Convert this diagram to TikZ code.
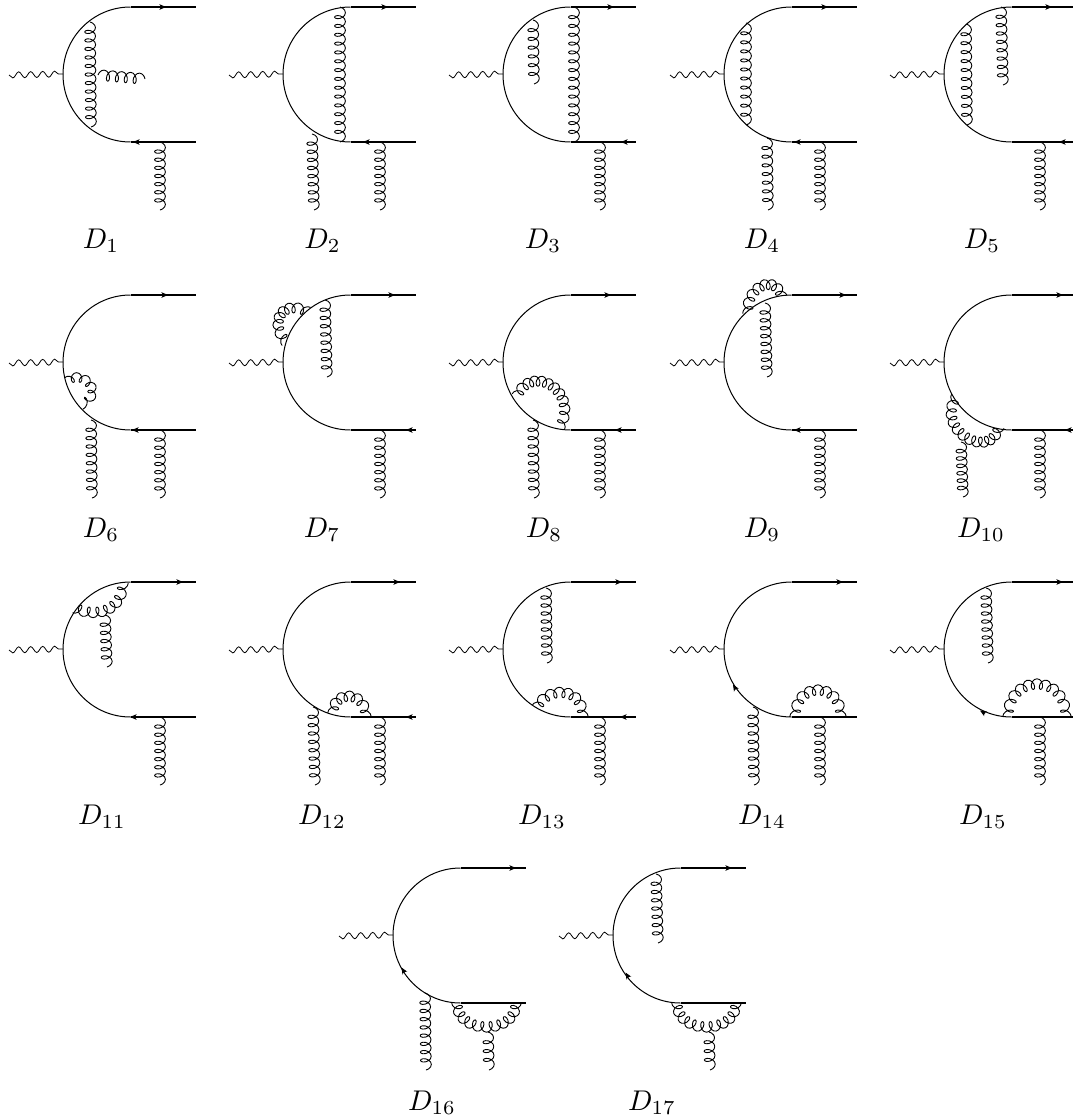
\documentclass[tikz,border=0pt]{standalone}
\usetikzlibrary{decorations.pathmorphing,arrows.meta}
\tikzset{
  fermion/.style={line width=1pt},
  fermionline/.style={line width=1.15pt},
  wave/.style={line width=0.8pt,decorate,decoration={snake,mirror,segment length=12pt,amplitude=3pt}},
  gluonline/.style={line width=0.9pt,line join=round},
  tip/.style={-{Stealth[length=6.5pt,width=5.5pt,inset=1.5pt]},line width=0.9pt},
  lab/.style={anchor=base,scale=2.85,inner sep=0pt}
}
\def\gA{5.4}\def\gB{3.5}\def\gCA{5.2}\def\gCB{3.4}
\newcommand{\basefig}[2]{%
  \begin{scope}[shift={(#1,#2)}]
    \draw[fermion] (130.5,7) .. controls (93.2,7) and (63,37.2) .. (63,74.5)
       .. controls (63,111.8) and (93.2,142) .. (130.5,142);
    \draw[fermionline] (130.5,7) -- (196,7);
    \draw[fermionline] (130.5,142) -- (196,142);
    \draw[wave] (9,75) -- (63,74);
  \end{scope}}
\newcommand{\topAr}[3]{\draw[tip] (#1+#3-5,#2+7) -- (#1+#3,#2+7);}
\newcommand{\botAr}[3]{\draw[tip] (#1+#3+5,#2+142) -- (#1+#3,#2+142);}
% straight gluon: x0 y0 x1 y1 loops
\newcommand{\gs}[5]{%
  \pgfmathsetmacro{\gdx}{#3-#1}%
  \pgfmathsetmacro{\gdy}{#4-#2}%
  \pgfmathsetmacro{\gL}{veclen(\gdx,\gdy)}%
  \pgfmathsetmacro{\gux}{\gdx/\gL}%
  \pgfmathsetmacro{\guy}{\gdy/\gL}%
  \pgfmathtruncatemacro{\gJ}{12*#5+6}%
  \gdef\gpts{}%
  \foreach \j in {0,...,\gJ}{%
    \pgfmathsetmacro{\gt}{\j/\gJ}%
    \pgfmathsetmacro{\gw}{\gB*(sin(30*\j-90)+1-2*\gt)}%
    \pgfmathsetmacro{\gh}{\gA*cos(30*\j-90)}%
    \pgfmathsetmacro{\gpx}{#1+\gt*\gdx+\gux*\gw+\guy*\gh}%
    \pgfmathsetmacro{\gpy}{#2+\gt*\gdy+\guy*\gw-\gux*\gh}%
    \xdef\gpts{\gpts(\gpx,\gpy)}}%
  \draw[gluonline] plot[smooth] coordinates {\gpts};}
% curved gluon: signed loops, then the four Bezier points of its centre line
\newcommand{\gc}[9]{%
  \pgfmathsetmacro{\gS}{#1>0 ? -1 : 1}%
  \pgfmathtruncatemacro{\gJ}{12*abs(#1)}%
  \gdef\gpts{}%
  \foreach \j in {0,...,\gJ}{%
    \pgfmathsetmacro{\gt}{\j/\gJ}%
    \pgfmathsetmacro{\gm}{1-\gt}%
    \pgfmathsetmacro{\gpa}{\gm*\gm*\gm}%
    \pgfmathsetmacro{\gpb}{3*\gm*\gm*\gt}%
    \pgfmathsetmacro{\gpc}{3*\gm*\gt*\gt}%
    \pgfmathsetmacro{\gpd}{\gt*\gt*\gt}%
    \pgfmathsetmacro{\gdx}{3*\gm*\gm*(#4-#2)+6*\gm*\gt*(#6-#4)+3*\gt*\gt*(#8-#6)}%
    \pgfmathsetmacro{\gdy}{3*\gm*\gm*(#5-#3)+6*\gm*\gt*(#7-#5)+3*\gt*\gt*(#9-#7)}%
    \pgfmathsetmacro{\gL}{veclen(\gdx,\gdy)}%
    \pgfmathsetmacro{\gw}{\gCB*sin(30*\j)/\gL}%
    \pgfmathsetmacro{\gh}{\gS*\gCA*cos(30*\j)/\gL}%
    \pgfmathsetmacro{\gpx}{\gpa*#2+\gpb*#4+\gpc*#6+\gpd*#8+\gdx*\gw-\gdy*\gh}%
    \pgfmathsetmacro{\gpy}{\gpa*#3+\gpb*#5+\gpc*#7+\gpd*#9+\gdy*\gw+\gdx*\gh}%
    \xdef\gpts{\gpts(\gpx,\gpy)}}%
  \draw[gluonline] plot[smooth] coordinates {\gpts};}
\begin{document}
\begin{tikzpicture}[x=1pt,y=-1pt]
\useasboundingbox (0,0) rectangle (1073,1120);
% D1
\basefig{0}{0}\topAr{0}{0}{166}\botAr{0}{0}{133}
\gs{90}{22}{91}{127}{11}
\gs{98}{75}{145}{79}{4}
\gs{160}{142}{160}{210}{7}
\node[lab] (n1) at (101,248) {$D_{1}$};
% D2
\basefig{220}{0}\topAr{220}{0}{168}\botAr{220}{0}{143}
\gs{340}{7}{340}{142}{14}
\gs{312}{134}{314}{210}{8}
\gs{380}{142}{380}{210}{7}
\node[lab] (n2) at (322.5,248) {$D_{2}$};
% D3
\basefig{440}{0}\topAr{440}{0}{174}\botAr{440}{0}{181}
\gs{533}{20}{534}{84}{6}
\gs{574}{7}{574}{142}{14}
\gs{600}{142}{600}{210}{7}
\node[lab] (n3) at (543,248) {$D_{3}$};
% D4
\basefig{661}{0}\topAr{661}{0}{167}\botAr{661}{0}{133}
\gs{746}{23}{746}{125}{10}
\gs{767}{138}{768}{210}{7}
\gs{820}{142}{820}{210}{7}
\node[lab] (n4) at (762,248) {$D_{4}$};
% D5
\basefig{881}{0}\topAr{881}{0}{171}\botAr{881}{0}{178}
\gs{966}{24}{967}{125}{10}
\gs{1001}{7}{1003}{85}{8}
\gs{1040}{142}{1040}{210}{7}
\node[lab] (n5) at (982,248) {$D_{5}$};
% D6
\basefig{0}{288}\topAr{0}{288}{168}\botAr{0}{288}{132}
{\def\gCA{4.6}\def\gCB{3}\gc{5}{68}{381}{80}{368}{108}{392}{81}{405}}
\gs{91}{420}{92}{498}{8}
\gs{160}{430}{160}{498}{7}
\node[lab] (n6) at (101,537) {$D_{6}$};
% D7
\basefig{220}{288}\topAr{220}{288}{175}\botAr{220}{288}{186}
\gc{7}{286}{342}{268}{322}{283}{298}{308}{312}
\gs{325}{300}{327}{377}{8}
\gs{380}{430}{380}{498}{7}
\node[lab] (n7) at (322,537) {$D_{7}$};
% D8
\basefig{440}{288}\topAr{440}{288}{171}\botAr{440}{288}{175}
\gc{11}{517}{396}{532}{362}{580}{392}{560}{427}
\gs{533}{420}{534}{498}{8}
\gs{600}{430}{600}{498}{7}
\node[lab] (n8) at (544,537) {$D_{8}$};
% D9
\basefig{661}{288}\topAr{661}{288}{185}\botAr{661}{288}{133}
\gc{7}{748}{313}{745}{288}{775}{272}{782}{297}
\gs{765}{303}{767}{377}{8}
\gs{820}{430}{820}{498}{7}
\node[lab] (n9) at (762,537) {$D_{9}$};
% D10
\basefig{881}{288}\topAr{881}{288}{182}\botAr{881}{288}{184}
\gc{-11}{956}{397}{935}{430}{990}{462}{999}{427}
\gs{961}{442}{963}{497}{6}
\gs{1040}{430}{1040}{498}{7}
\node[lab] (n10) at (981,537) {$D_{10}$};
% D11
\basefig{0}{575}\topAr{0}{575}{183}\botAr{0}{575}{130}
\gc{-7}{75}{608}{95}{618}{122}{612}{123}{583}
\gs{105}{615}{107}{667}{5}
\gs{160}{717}{160}{785}{7}
\node[lab] (n11) at (102,824) {$D_{11}$};
% D12
\basefig{220}{575}\topAr{220}{575}{180}\botAr{220}{575}{186}
\gc{6}{333}{713}{333}{690}{366}{690}{366}{717}
\gs{313}{707}{315}{785}{8}
\gs{380}{717}{380}{785}{7}
\node[lab] (n12) at (322,824) {$D_{12}$};
% D13
\basefig{440}{575}\topAr{440}{575}{182}\botAr{440}{575}{180}
\gc{7}{537}{707.5}{547}{686}{583}{686}{583}{717}
\gs{546}{588}{547}{663}{8}
\gs{600}{717}{600}{785}{7}
\node[lab] (n13) at (542,824) {$D_{13}$};
% D14
\basefig{661}{575}\topAr{661}{575}{182}
\draw[tip] (736,689.5) -- (733,684.5);
\gc{8}{795}{717}{795}{681}{841}{681}{841}{717}
\gs{753}{707}{754}{785}{8}
\gs{820}{717}{820}{785}{7}
\node[lab] (n14) at (762,824) {$D_{14}$};
% D15
\basefig{881}{575}\topAr{881}{575}{182}
\draw[tip] (985,713.5) -- (980,710.5);
\gc{10}{1008}{717}{1008}{673}{1066}{673}{1066}{717}
\gs{986}{588}{988}{663}{8}
\gs{1040}{717}{1040}{785}{7}
\node[lab] (n15) at (983,824) {$D_{15}$};
% D16
\basefig{330}{861}\topAr{330}{861}{186}
\draw[tip] (404.5,972.5) -- (401.5,967.5);
\gc{-10}{457}{1003}{457}{1035}{516}{1035}{516}{1003}
\gs{488}{1032}{489}{1070}{3}
\gs{425}{993}{426}{1070}{8}
\node[lab] (n16) at (432,1110) {$D_{16}$};
% D17
\basefig{550}{861}\topAr{550}{861}{182}
\draw[tip] (628.5,977.5) -- (625.5,972.5);
\gc{-10}{677}{1003}{677}{1035}{736}{1035}{736}{1003}
\gs{709}{1032}{710}{1070}{3}
\gs{656}{874}{658}{943}{7}
\node[lab] (n17) at (652,1110) {$D_{17}$};
\end{tikzpicture}
\end{document}
